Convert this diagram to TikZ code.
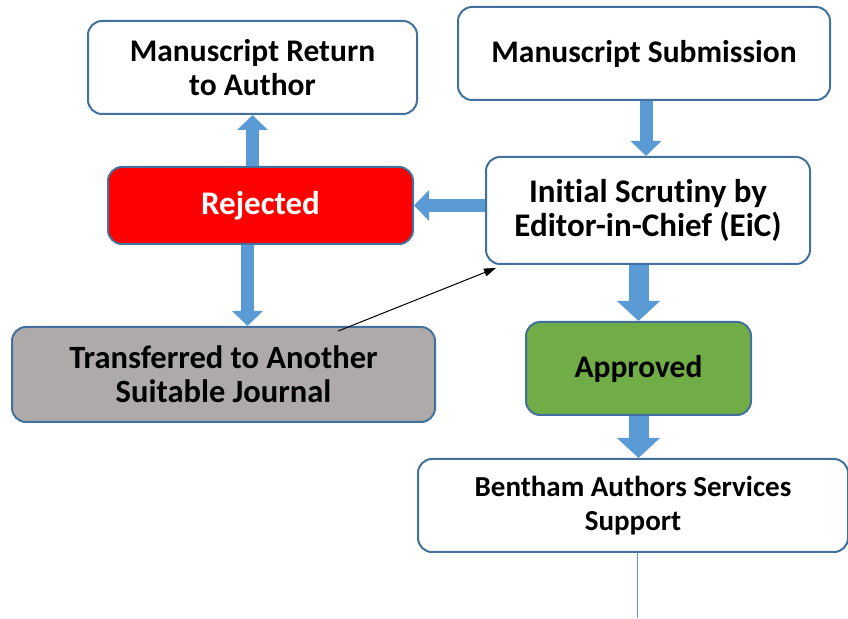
\documentclass[tikz,border=0pt]{standalone}
\usepackage{fontspec}
\setmainfont[Ligatures=NoCommon]{Carlito}
\usepackage{xcolor}
\usepackage{tikz}
\usetikzlibrary{positioning,calc,arrows.meta}
\definecolor{mspedge}{HTML}{41719C}
\definecolor{mspblue}{HTML}{5B9BD5}
\definecolor{mspred}{HTML}{FF0000}
\definecolor{mspgray}{HTML}{AEAAAA}
\definecolor{mspgreen}{HTML}{70AD47}
\tikzset{
  msp box/.style={rectangle, rounded corners=14pt, draw=mspedge, line width=2pt, fill=white, align=center, font=\bfseries\fontsize{31.5}{33.5}\selectfont},
  msp flow/.style={draw=mspblue, line width=13pt, -{Triangle[width=30pt,length=15pt]}},
  msp wide flow/.style={draw=mspblue, line width=20pt, -{Triangle[width=42pt,length=20pt]}},
  msp link/.style={draw=black, line width=1pt, -{Triangle[width=8pt,length=12pt]}}
}
\begin{document}
\begin{tikzpicture}[x=1pt, y=1pt]
    \useasboundingbox (0,0) rectangle (848,618);
    % right column
    \node [msp box, minimum width=372pt, minimum height=93pt] (Sub) at (644,564.5) {Manuscript Submission};
    \node [msp box, font=\bfseries\fontsize{33}{34}\selectfont, minimum width=324pt, minimum height=107pt, below=55pt of Sub, xshift=4pt] (Scr) {Initial Scrutiny by\\Editor-in-Chief (EiC)};
    \node [msp box, fill=mspgreen, minimum width=225pt, minimum height=93pt, below=56pt of Scr, xshift=-9.5pt] (App) {Approved};
    \node [msp box, font=\bfseries\fontsize{29}{33.5}\selectfont, minimum width=430pt, minimum height=93pt, below=42pt of App, xshift=-5.5pt] (Ben) {Bentham Authors Services\\Support};
    \coordinate (Tail) at (637,0);

    % left column
    \node [msp box, minimum width=329pt, minimum height=93pt, left=39pt of Sub, yshift=-14pt] (Ret) {Manuscript Return\\to Author};
    \node [msp box, font=\bfseries\fontsize{33}{34}\selectfont, fill=mspred, text=white, minimum width=305pt, minimum height=77pt, left=71pt of Scr, yshift=5pt] (Rej) {Rejected};
    \node [msp box, font=\bfseries\fontsize{32.5}{34}\selectfont, fill=mspgray, minimum width=423pt, minimum height=95pt, below=81pt of Rej, xshift=-37pt] (Tra) {Transferred to Another\\Suitable Journal};

    % block arrows
    \draw [msp flow] ([xshift=2pt]Sub.south) -- ([xshift=-2pt]Scr.north);
    \draw [msp wide flow] (Scr.south -| App.north) -- (App.north);
    \draw [msp wide flow] (App.south) -- (App.south |- Ben.north);
    \draw [msp flow] (Rej.east -| Scr.west) -- (Rej.east);
    \draw [msp flow] (Rej.north -| Ret.south) -- (Ret.south);
    \draw [msp flow] ([xshift=-13pt]Rej.south) -- ([xshift=-13pt]Rej.south |- Tra.north);

    % thin lines
    \draw [msp link] ([yshift=-5pt]$(Tra.north)!0.54!(Tra.north east)$) -- ([shift={(11pt,-3pt)}]Scr.south west);
    \draw [mspblue, line width=1pt] ([xshift=4pt]Ben.south) -- (Tail);
\end{tikzpicture}
\end{document}
